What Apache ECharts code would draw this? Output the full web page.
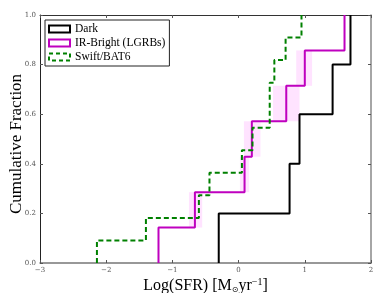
<!DOCTYPE html>
<html>
<head>
<meta charset="utf-8">
<script src="https://cdn.jsdelivr.net/npm/echarts@6/dist/echarts.min.js"></script>
<style>html,body{margin:0;padding:0;background:#fff}#c{width:390px;height:293px}</style>
</head>
<body>
<div id="c"></div>
<script>
// Sorted Log(SFR) values for each sample (read from the cumulative steps)
const seriesNames = ['Dark', 'IR-Bright (LGRBs)', 'Swift/BAT6'];
const darkX = [-0.30, 0.77, 0.92, 1.42, 1.69];
const irX = [-1.21, -0.66, 0.09, 0.20, 0.72, 1.00, 1.60];
const batX = [-2.14, -1.40, -0.60, -0.44, 0.05, 0.21, 0.47, 0.47, 0.54, 0.71, 0.95];
// Shaded uncertainty range of each IR-Bright step (null = none)
const irBandLo = [null, -0.75, 0.02, 0.08, 0.52, 0.87, null];
const irBandHi = [null, -0.55, 0.16, 0.33, 0.92, 1.11, null];
const xTicks = [-3, -2, -1, 0, 1, 2];
const yTicks = [0.0, 0.2, 0.4, 0.6, 0.8, 1.0];

function cdf(xs) {
  const n = xs.length;
  const pts = [[xs[0], 0]];
  xs.forEach((x, i) => pts.push([x, (i + 1) / n]));
  return pts;
}
const irBands = [];
irX.forEach((x, i) => {
  if (irBandLo[i] !== null) {
    irBands.push([{ xAxis: irBandLo[i], yAxis: i / irX.length }, { xAxis: irBandHi[i], yAxis: (i + 1) / irX.length }]);
  }
});

const serif = '"DejaVu Serif", "Liberation Serif", serif';
const tickFont = { fontFamily: serif, fontSize: 7, color: '#555' };
const fmtX = v => (v < 0 ? '\u2212' + Math.abs(v) : String(v));

const chart = echarts.init(document.getElementById('c'), null, { renderer: 'canvas' });
chart.setOption({
  animation: false,
  backgroundColor: '#fff',
  grid: { left: 40, right: 19, top: 15, bottom: 30, containLabel: false, outerBoundsMode: 'none' },
  legend: {
    orient: 'vertical', left: 45, top: 20,
    backgroundColor: '#fff', borderColor: '#222', borderWidth: 1,
    padding: [3, 4, 3, 3], itemGap: 2, itemWidth: 21, itemHeight: 7,
    textStyle: { fontFamily: '"Liberation Serif", serif', fontSize: 11.5, color: '#000' },
    data: [
      { name: seriesNames[0], icon: 'rect', itemStyle: { color: 'rgba(0,0,0,0)', borderColor: '#000', borderWidth: 2 } },
      { name: seriesNames[1], icon: 'rect', itemStyle: { color: 'rgba(0,0,0,0)', borderColor: '#bf00bf', borderWidth: 2 } },
      { name: seriesNames[2], icon: 'rect', itemStyle: { color: 'rgba(0,0,0,0)', borderColor: '#008000', borderWidth: 2, borderType: [4, 3] } }
    ]
  },
  xAxis: [{
    type: 'value', min: xTicks[0], max: xTicks[xTicks.length - 1], interval: 1,
    name: 'Log(SFR) [M{sub|\u2299}yr{sup|\u22121}]',
    nameLocation: 'middle', nameGap: 14, nameMoveOverlap: false,
    nameTextStyle: {
      fontFamily: '"Liberation Serif", serif', fontSize: 16, color: '#000',
      rich: {
        sub: { fontFamily: '"DejaVu Sans", sans-serif', fontSize: 8, padding: [8, 0, 0, 0], color: '#000' },
        sup: { fontFamily: '"Liberation Serif", serif', fontSize: 10, padding: [0, 0, 8, 0], color: '#000' }
      }
    },
    axisLine: { onZero: false, lineStyle: { color: '#777', width: 1.5 } },
    axisTick: { inside: true, length: 3, lineStyle: { color: '#555' } },
    axisLabel: Object.assign({ margin: 4, formatter: fmtX }, tickFont),
    splitLine: { show: false }
  }, {
    type: 'value', position: 'top', min: xTicks[0], max: xTicks[xTicks.length - 1], interval: 1,
    axisLine: { onZero: false, lineStyle: { color: '#333', width: 1 } },
    axisTick: { inside: true, length: 3, lineStyle: { color: '#555' } },
    axisLabel: { show: false }, splitLine: { show: false }
  }],
  yAxis: [{
    type: 'value', min: yTicks[0], max: yTicks[yTicks.length - 1], interval: 0.2,
    name: 'Cumulative Fraction', nameLocation: 'middle', nameGap: 15, nameMoveOverlap: false,
    nameTextStyle: { fontFamily: '"Liberation Serif", serif', fontSize: 17, color: '#000', padding: [0, 10, 0, 0] },
    axisLine: { onZero: false, lineStyle: { color: '#222', width: 1 } },
    axisTick: { inside: true, length: 3, lineStyle: { color: '#555' } },
    axisLabel: Object.assign({ margin: 4, formatter: v => v.toFixed(1) }, tickFont),
    splitLine: { show: false }
  }, {
    type: 'value', position: 'right', min: yTicks[0], max: yTicks[yTicks.length - 1], interval: 0.2,
    axisLine: { onZero: false, lineStyle: { color: '#888', width: 1.5 } },
    axisTick: { inside: true, length: 3, lineStyle: { color: '#555' } },
    axisLabel: { show: false }, splitLine: { show: false }
  }],
  series: [
    {
      name: seriesNames[0], type: 'line', step: 'end', data: cdf(darkX), showSymbol: false,
      lineStyle: { color: '#000', width: 2 }, itemStyle: { color: '#000' }, z: 3
    },
    {
      name: seriesNames[1], type: 'line', step: 'end', data: cdf(irX), showSymbol: false,
      lineStyle: { color: '#bf00bf', width: 2 }, itemStyle: { color: '#bf00bf' }, z: 4,
      markArea: { silent: true, itemStyle: { color: 'rgba(255,0,255,0.11)' }, data: irBands }
    },
    {
      name: seriesNames[2], type: 'line', step: 'end', data: cdf(batX), showSymbol: false,
      lineStyle: { color: '#008000', width: 2, type: [5, 3] }, itemStyle: { color: '#008000' }, z: 5
    }
  ]
});
</script>
</body>
</html>
